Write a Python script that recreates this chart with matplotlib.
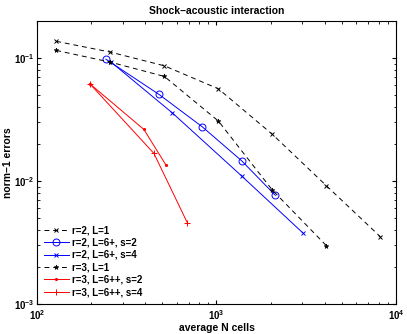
import numpy as np
import matplotlib
matplotlib.use('Agg')
import matplotlib.pyplot as plt

plt.rcParams['font.family'] = ['Liberation Sans', 'DejaVu Sans']
plt.rcParams['mathtext.default'] = 'regular'

# data
n_r2_L1 = [128, 256, 512, 1024, 2048, 4096, 8192]
e_r2_L1 = [0.137, 0.112, 0.0866, 0.0563, 0.024, 0.00916, 0.00352]

n_r2_L6_s2 = [242, 478, 834, 1381, 2127]
e_r2_L6_s2 = [0.098, 0.0507, 0.0276, 0.01462, 0.00766]

n_r2_L6_s4 = [257, 567, 1381, 3021]
e_r2_L6_s4 = [0.0935, 0.0359, 0.0110, 0.0038]

n_r3_L1 = [128, 256, 512, 1024, 2048, 4096]
e_r3_L1 = [0.1155, 0.0928, 0.071, 0.0308, 0.00845, 0.00298]

n_r3_L6_s2 = [197, 394, 523]
e_r3_L6_s2 = [0.0618, 0.0263, 0.0135]

n_r3_L6_s4 = [197, 448, 688]
e_r3_L6_s4 = [0.0618, 0.0168, 0.00458]

labels = ['r=2, L=1', 'r=2, L=6+, s=2', 'r=2, L=6+, s=4',
          'r=3, L=1', 'r=3, L=6++, s=2', 'r=3, L=6++, s=4']

fig = plt.figure(figsize=(4.07, 3.34), dpi=100)
ax = fig.add_axes([0.0909, 0.0898, 0.882, 0.847])

lw = 0.7
dash = (0, (5, 4))
ax.loglog(n_r2_L1, e_r2_L1, color='k', ls=dash, lw=lw, marker='x', ms=3.5, mew=0.7, label=labels[0])
ax.loglog(n_r2_L6_s2, e_r2_L6_s2, color='b', lw=lw, marker='o', ms=5, mfc='none', mew=0.7, label=labels[1])
ax.loglog(n_r2_L6_s4, e_r2_L6_s4, color='b', lw=lw, marker='x', ms=3.5, mew=0.7, label=labels[2])
ax.loglog(n_r3_L1, e_r3_L1, color='k', ls=dash, lw=lw, marker='*', ms=3.5, mew=0.5, label=labels[3])
ax.loglog(n_r3_L6_s2, e_r3_L6_s2, color='r', lw=lw, marker='.', ms=2.5, label=labels[4])
ax.loglog(n_r3_L6_s4, e_r3_L6_s4, color='r', lw=lw, marker='+', ms=5, mew=0.7, label=labels[5])

ax.set_xlim(100, 10000)
ax.set_ylim(1e-3, 0.2)
ax.tick_params(which='both', direction='in', top=True, right=True, labelsize=7)
ax.tick_params(which='major', length=3, pad=3)
ax.tick_params(which='minor', length=1.8)
ax.tick_params(axis='y', which='major', pad=2)
for lab in ax.get_xticklabels() + ax.get_yticklabels():
    lab.set_fontweight('bold')

ax.set_title('Shock\u2013acoustic interaction', fontsize=7.5, fontweight='bold', pad=5)
ax.set_xlabel('average N cells', fontsize=7.5, fontweight='bold', labelpad=1)
ax.set_ylabel('norm\u20131 errors', fontsize=7.5, fontweight='bold')
ax.yaxis.set_label_coords(-0.068, 0.5)

leg = ax.legend(loc='lower left', frameon=False, fontsize=7, handlelength=2.6,
                labelspacing=0.25, borderaxespad=0.3, handletextpad=0.3)
for t in leg.get_texts():
    t.set_fontweight('bold')

fig.savefig('out.png', dpi=100)
